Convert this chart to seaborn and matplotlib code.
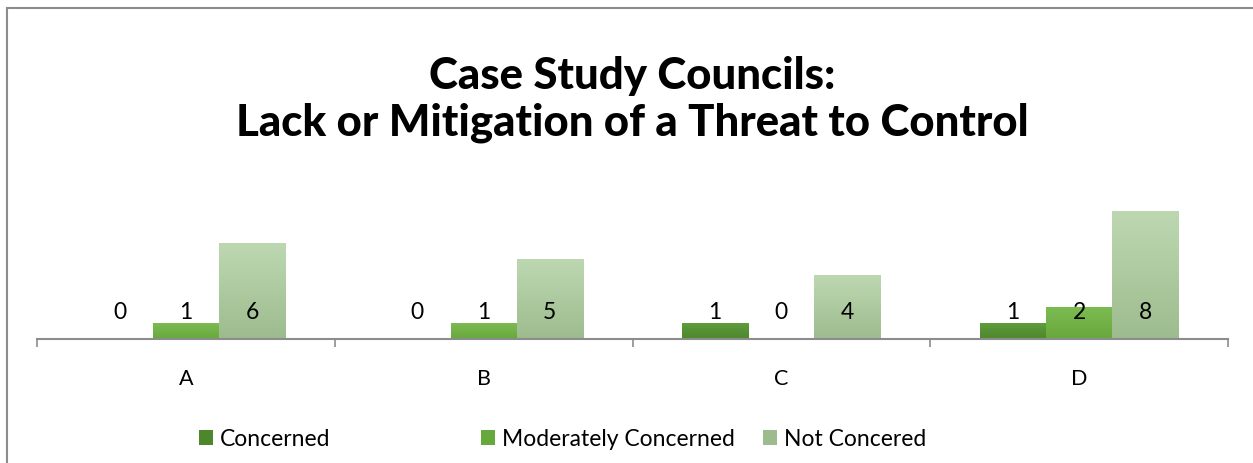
import matplotlib
matplotlib.use("Agg")
import matplotlib.pyplot as plt
import matplotlib.colors as mcolors
from matplotlib.patches import Rectangle, Patch
import numpy as np
import pandas as pd
import seaborn as sns

# Données
councils = ["A", "B", "C", "D"]
series = ["Concerned", "Moderately Concerned", "Not Concered"]
concerned = [0, 0, 1, 1]
moderately = [1, 1, 0, 2]
not_concerned = [6, 5, 4, 8]

# couleurs (haut, bas) du dégradé façon Excel
COLORS_TOP = ["#5e9c3c", "#7cbb52", "#bdd8b1"]
COLORS_BOT = ["#4d872c", "#67a83c", "#9dbc8e"]

df = pd.DataFrame({
    "council": councils * 3,
    "series": [s for s in series for _ in councils],
    "value": concerned + moderately + not_concerned,
})

sns.set_theme(style="white")
plt.rcParams["font.family"] = ["Lato", "DejaVu Sans"]
plt.rcParams["text.color"] = "black"
plt.rcParams["xtick.labelcolor"] = "black"

W, H = 1253, 464
fig = plt.figure(figsize=(W / 100, H / 100), dpi=100)
ax = fig.add_axes([37 / W, (H - 340) / H, (1228 - 37) / W, 144 / H])

palette = {s: c for s, c in zip(series, COLORS_BOT)}
sns.barplot(data=df, x="council", y="value", hue="series", hue_order=series,
            order=councils, palette=palette, width=0.667, gap=0,
            legend=False, ax=ax, linewidth=0, errorbar=None)

# dégradé vertical sur chaque barre + étiquettes de valeur
for i, cont in enumerate(ax.containers):
    cmap = mcolors.LinearSegmentedColormap.from_list(
        "g%d" % i, [COLORS_BOT[i], COLORS_TOP[i]])
    for bar in cont:
        x0, w, h = bar.get_x(), bar.get_width(), bar.get_height()
        if h > 0:
            grad = np.linspace(0, 1, 100).reshape(-1, 1)
            im = ax.imshow(grad, cmap=cmap, origin="lower", aspect="auto",
                           extent=[x0, x0 + w, 0, h], zorder=bar.get_zorder())
            im.set_clip_path(bar)
        ax.annotate(f"{int(h)}", (x0 + w / 2, 0), xytext=(0, 19.5),
                    textcoords="offset points", ha="center", va="center",
                    fontsize=16.5, color="black", zorder=5)
ax.set_xlim(-0.5, 3.5)
ax.set_ylim(0, 9)

# axes façon Excel
for side in ["top", "right", "left"]:
    ax.spines[side].set_visible(False)
ax.spines["bottom"].set_color("#8c8c8c")
ax.spines["bottom"].set_linewidth(1.5)
ax.set_yticks([])
ax.set_xticks([-0.5, 0.5, 1.5, 2.5, 3.5], minor=False)
ax.set_xticklabels([])
ax.set_xticks([0, 1, 2, 3], minor=True)
ax.set_xticklabels(councils, minor=True, fontsize=15.5)
ax.tick_params(axis="x", which="major", direction="out", length=6,
               width=1.2, color="#8c8c8c", bottom=True)
ax.tick_params(axis="x", which="minor", length=0, pad=21)
ax.set_xlabel("")
ax.set_ylabel("")

fig.text(632 / W, 1 - 76 / H, "Case Study Councils:", ha="center",
         va="center", fontsize=31.5, fontweight="black")
fig.text(632 / W, 1 - 123 / H, "Lack or Mitigation of a Threat to Control",
         ha="center", va="center", fontsize=31.5, fontweight="black")

# légende : trois entrées régulièrement espacées
for s, cbot, xpx in zip(series, COLORS_BOT, [199, 481, 763]):
    h = Patch(facecolor=cbot, edgecolor="none")
    fig.legend(handles=[h], labels=[s], loc="center left",
               bbox_to_anchor=(xpx / W, 1 - 440 / H), frameon=False,
               fontsize=16.5, handlelength=0.6, handleheight=0.6,
               handletextpad=0.3, borderpad=0, borderaxespad=0)

# cadre du graphique
fig.patches.append(Rectangle((7 / W, -0.1), 1.1, 1 - 9 / H + 0.1,
                             transform=fig.transFigure, fill=False,
                             edgecolor="#8c8c8c", linewidth=1.5))

fig.savefig("out.png", dpi=100)
